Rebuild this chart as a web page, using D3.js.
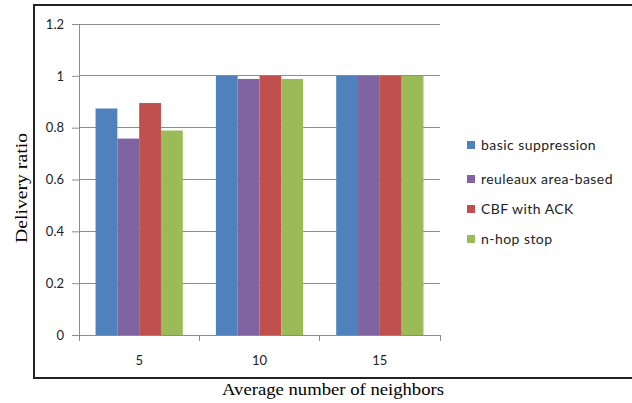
<!DOCTYPE html>
<html><head><meta charset="utf-8">
<script src="https://cdn.jsdelivr.net/npm/d3@7"></script>
<style>body{margin:0;background:#fff}svg{display:block}</style>
</head><body>
<svg id="c" width="632" height="403"></svg>
<script>
const categories = ["5","10","15"];
const seriesNames = ["basic suppression","reuleaux area-based","CBF with ACK","n-hop stop"];
const basicSuppression = [0.874, 1.0, 1.0];
const reuleaux = [0.758, 0.988, 1.0];
const cbfAck = [0.895, 1.0, 1.0];
const nHopStop = [0.789, 0.988, 1.0];
const yTicks = [0, 0.2, 0.4, 0.6, 0.8, 1, 1.2];
const colors = ["#4F81BD","#8064A2","#C0504D","#9BBB59"];
const seriesValues = [basicSuppression, reuleaux, cbfAck, nHopStop];

const svg = d3.select("#c");
const L = 79, R = 440, T = 24, B = 335;
const x = d3.scaleBand().domain(categories).range([L, R]).paddingInner(0.275).paddingOuter(0.1375);
const xs = d3.scaleBand().domain(d3.range(seriesNames.length)).range([0, x.bandwidth()]);
const y = d3.scaleLinear().domain([0, 1.2]).range([B, T]);

// frame
svg.append("path").attr("d", `M632,5 H34 V378 H632`).attr("fill","none").attr("stroke","#222").attr("stroke-width",2);

// gridlines
svg.append("g").selectAll("line").data(yTicks.slice(1)).join("line")
  .attr("x1", L).attr("x2", R).attr("y1", d=>y(d)).attr("y2", d=>y(d))
  .attr("stroke","#8c8c8c").attr("stroke-width",1).attr("shape-rendering","crispEdges");

// y axis
const ya = svg.append("g").attr("transform",`translate(${L},0)`)
  .call(d3.axisLeft(y).tickValues(yTicks).tickFormat(d=>d3.format("")(d)).tickSize(7).tickPadding(8));
ya.select(".domain").attr("stroke","#8c8c8c");
ya.selectAll(".tick line").attr("stroke","#8c8c8c");
ya.selectAll("text").attr("font-family","Lato, 'Open Sans', sans-serif").attr("font-size",13).attr("fill","#222");

// bars
const g = svg.append("g");
seriesValues.forEach((vals, si) => {
  g.selectAll(null).data(vals).join("rect")
    .attr("x", (d,i)=>x(categories[i]) + xs(si))
    .attr("width", xs.bandwidth())
    .attr("y", d=>y(d))
    .attr("height", d=>B - y(d))
    .attr("fill", colors[si]);
});

// x axis
const xTickPos = [L].concat(categories.map(c => x(c) + x.bandwidth() + x.step()*x.paddingInner()/2));
xTickPos[xTickPos.length-1] = R;
const xa = svg.append("g").attr("transform",`translate(0,${B})`);
xa.append("line").attr("x1", L-7).attr("x2", R).attr("stroke","#8c8c8c").attr("shape-rendering","crispEdges");
xa.selectAll(".xt").data(xTickPos).join("line").attr("class","xt")
  .attr("x1", d=>d).attr("x2", d=>d).attr("y1",0).attr("y2",6).attr("stroke","#8c8c8c").attr("shape-rendering","crispEdges");
xa.selectAll("text").data(categories).join("text")
  .attr("x", d=>x(d)+x.bandwidth()/2).attr("y", 30).attr("text-anchor","middle")
  .attr("font-family","Lato, 'Open Sans', sans-serif").attr("font-size",13).attr("fill","#222").text(d=>d);

// axis titles
svg.append("text").attr("x", 333).attr("y", 395).attr("text-anchor","middle")
  .attr("font-family","'Liberation Serif', 'Times New Roman', serif").attr("font-size",17).attr("fill","#000")
  .attr("textLength",222).attr("lengthAdjust","spacingAndGlyphs")
  .text("Average number of neighbors");
svg.append("text").attr("transform","translate(27,188) rotate(-90)").attr("text-anchor","middle")
  .attr("font-family","'Liberation Serif', 'Times New Roman', serif").attr("font-size",17).attr("fill","#000")
  .attr("textLength",110).attr("lengthAdjust","spacingAndGlyphs")
  .text("Delivery ratio");

// legend
const leg = svg.append("g").attr("transform","translate(467,0)");
const legY = [145, 179, 209, 239];
seriesNames.forEach((n,i)=>{
  leg.append("rect").attr("x",0).attr("y",legY[i]-4).attr("width",8).attr("height",8).attr("fill",colors[i]);
  leg.append("text").attr("x",14).attr("y",legY[i]).attr("dy","0.35em")
    .attr("font-family","Lato, 'Open Sans', sans-serif").attr("font-size",14).attr("letter-spacing",0.45).attr("fill","#222").text(n);
});
</script>
</body></html>
